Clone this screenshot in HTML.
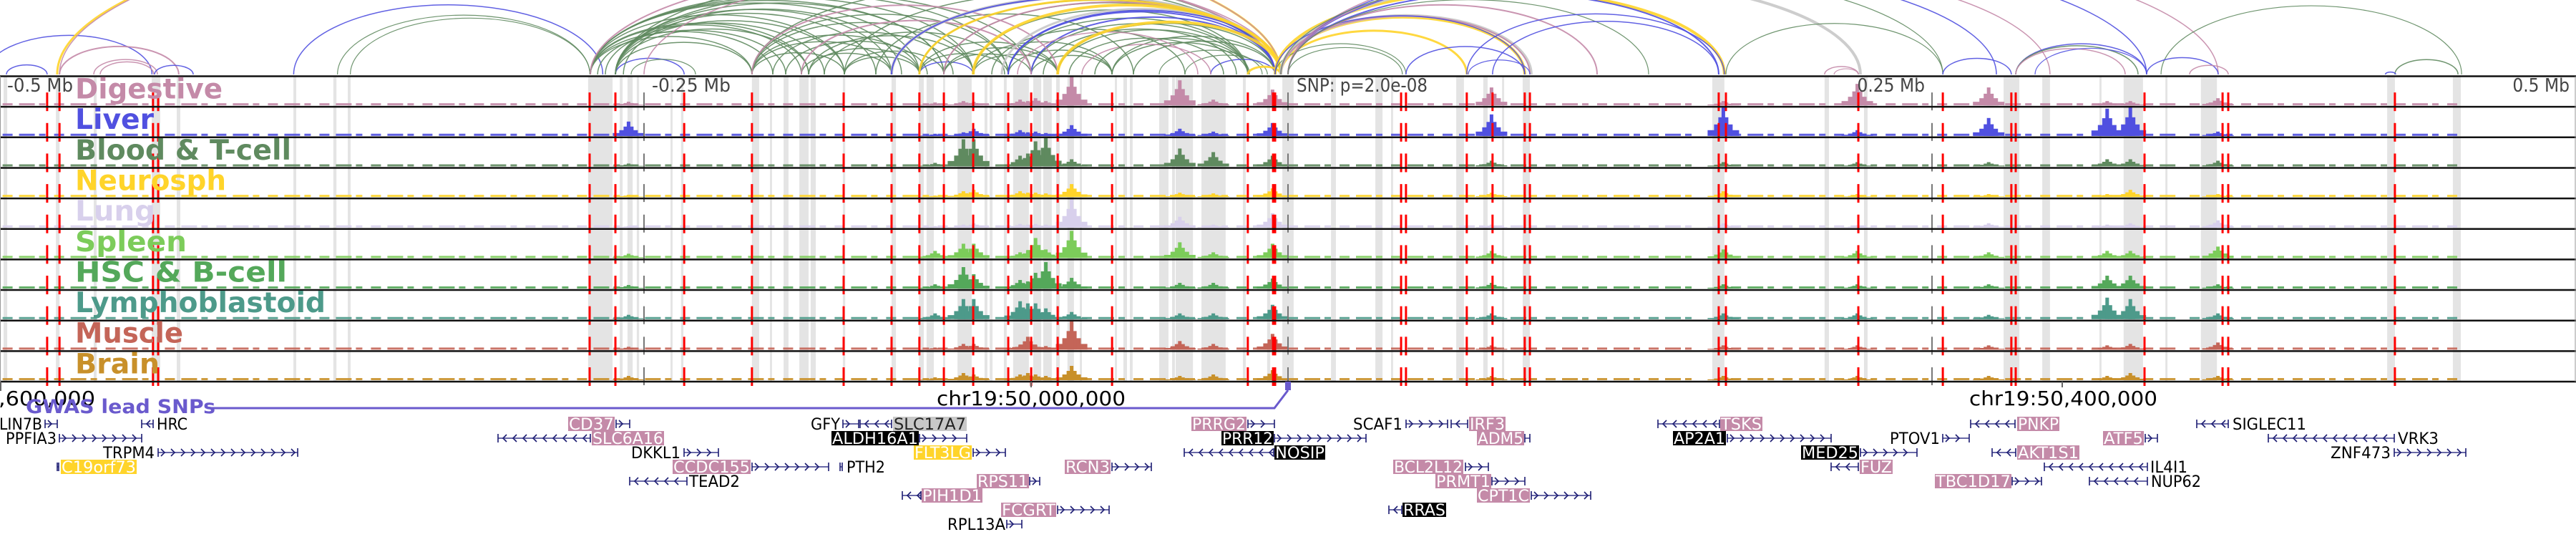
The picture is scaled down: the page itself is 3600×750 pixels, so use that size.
<!DOCTYPE html>
<html><head><meta charset="utf-8"><style>
html,body{margin:0;padding:0;background:#fff;}
svg{display:block;}
text{font-family:"DejaVu Sans Condensed","Liberation Sans Narrow","Liberation Sans",sans-serif;}
</style></head><body>
<svg id="chart" width="3600" height="750" viewBox="0 0 3600 750" xmlns="http://www.w3.org/2000/svg">
<g id="arcs"></g>
<g id="bands"></g>
<g id="signals"></g>
<g id="reds"></g>
<g id="frames"></g>
<g id="labels"></g>
<g id="axis">
<text x="10" y="128" font-size="26" fill="#444" textLength="92" lengthAdjust="spacingAndGlyphs">-0.5 Mb</text>
<text x="911" y="128" font-size="26" fill="#444" textLength="110" lengthAdjust="spacingAndGlyphs">-0.25 Mb</text>
<text x="1812" y="128" font-size="26" fill="#444" textLength="183" lengthAdjust="spacingAndGlyphs">SNP: p=2.0e-08</text>
<text x="2690" y="128" font-size="26" fill="#444" text-anchor="end">0.25 Mb</text>
<text x="3591" y="128" font-size="26" fill="#444" text-anchor="end">0.5 Mb</text>
<line x1="1" y1="533" x2="1" y2="546" stroke="#666" stroke-width="2"/>
<line x1="1441" y1="533" x2="1441" y2="541" stroke="#666" stroke-width="2"/>
<line x1="2882" y1="533" x2="2882" y2="541" stroke="#666" stroke-width="2"/>
<text x="-2" y="566" font-size="28" fill="#000" textLength="135" lengthAdjust="spacingAndGlyphs">,600,000</text>
<text x="1309" y="566" font-size="28" fill="#000" textLength="264" lengthAdjust="spacingAndGlyphs">chr19:50,000,000</text>
<text x="2752" y="566" font-size="28" fill="#000" textLength="263" lengthAdjust="spacingAndGlyphs">chr19:50,400,000</text>
</g>
<g id="gwas">
<polyline points="290,570 1781,570 1800,545" fill="none" stroke="#6a5acd" stroke-width="3"/>
<rect x="1796" y="533" width="8" height="12" fill="#6a5acd"/>
<text x="36" y="577" font-size="27" font-weight="bold" fill="#6a5acd" textLength="265" lengthAdjust="spacingAndGlyphs">GWAS lead SNPs</text>
</g>
<g id="genes"></g>
</svg>
<script>
// ---------- data ----------
const trackNames = ["Digestive","Liver","Blood & T-cell","Neurosph","Lung","Spleen","HSC & B-cell","Lymphoblastoid","Muscle","Brain"];
const trackColors = ["#c48aa8","#5050e0","#5f8a5f","#ffd42a","#d8d0ec","#7ccc5a","#54a85a","#4d9a8a","#c46558","#c8902a"];
const trackLabelWidths = [206,110,302,211,112,156,296,350,151,118];
// peak positions (kb relative to lead SNP)
const peakKb = [-256,-137,-126,-122,-104,-101,-98,-94,-84,-42,-29,-6,79,169,221,272,318,327,361];
const sigDigestive = [5,4,6,5,8,6,10,6,40,35,8,22,25,6,30,25,6,6,10];
const sigLiver     = [20,3,5,10,8,5,6,4,15,10,6,18,30,40,8,25,38,40,6];
const sigBlood     = [4,5,38,38,15,18,35,40,10,25,20,15,8,6,6,6,10,10,8];
const sigNeuro     = [3,2,8,10,8,6,6,5,18,6,5,12,6,8,4,4,4,10,4];
const sigLung      = [2,2,4,6,5,4,5,4,40,15,4,20,4,6,3,6,4,6,10];
const sigSpleen    = [6,10,20,20,8,10,28,12,38,22,8,20,10,12,10,8,10,10,16];
const sigHSC       = [5,6,30,20,12,10,22,37,15,8,8,14,8,6,6,6,18,18,6];
const sigLympho    = [6,8,28,28,25,22,22,15,10,8,8,20,8,8,8,6,30,28,8];
const sigMuscle    = [4,3,8,8,6,18,6,5,40,12,8,22,6,6,6,6,6,8,10];
const sigBrain     = [6,4,10,8,8,10,8,6,20,6,8,14,6,6,6,6,6,10,6];
const trackSignals = [sigDigestive,sigLiver,sigBlood,sigNeuro,sigLung,sigSpleen,sigHSC,sigLympho,sigMuscle,sigBrain];
const baselineKb = [[-499,-440],[-436,-125],[-120,160],[172,345],[350,455]];
const snpKb = [-481.7,-476.9,-440.6,-438.6,-271.1,-261.1,-234.4,-208.1,-172.5,-153.9,-143.1,-133.6,-122.2,-108.6,-99.7,-89.4,-68.3,-15.6,-5.8,-5.0,43.9,45.8,69.4,79.4,91.9,93.9,167.2,170,221.4,254.2,280.8,282.5,332.5,362.8,365,429.7];
const tickKb = [-250,0,250];
const bandKb = [[-498.6,-497.2],[-478.3,-476.9],[-463.6,-462.5],[-441.1,-437.8],[-431.4,-430],[-386.1,-385],[-370.6,-369.4],[-365,-363.9],[-271.7,-262.2],[-259.4,-258.3],[-256.4,-254.4],[-252.8,-251.9],[-239.7,-238.9],[-235.6,-234.7],[-208.1,-205.3],[-201.1,-200.3],[-195.8,-193.9],[-189.7,-186.1],[-185.3,-183.3],[-172.8,-171.9],[-153.9,-152.2],[-143.3,-141.4],[-140.3,-137.5],[-133.9,-133.1],[-128.3,-122.8],[-117.8,-116.7],[-115.8,-114.7],[-110.3,-109.2],[-106.7,-100.6],[-98.9,-95.8],[-95,-91.7],[-90,-88.6],[-85.6,-83.1],[-80.8,-80],[-67.2,-66.4],[-63.9,-62.5],[-61.4,-60.3],[-50,-46.4],[-45,-43.9],[-43.6,-36.9],[-33.6,-24.2],[-17.5,-16.4],[-8.1,-6.9],[-2.2,2.2],[16.7,18.6],[33.9,36.7],[40,40.8],[65.3,68.3],[75.8,77.5],[83.1,83.9],[91.1,93.9],[164.7,169.4],[208.3,210],[223.6,225],[277.8,283.9],[292.8,295.8],[315,315.8],[324.4,331.9],[340.6,341.4],[354.4,360.6],[426.7,429.7],[452.2,455.3]];
// arcs: [kb1, kb2, colorIndex, width]  colors: 0 green,1 blue,2 pink,3 gray,4 yellow
const arcColors = ["#5f8a5f","#5050e0","#c48aa8","#c8c8c8","#ffd42a"];
const arcList = [
[-505.6,-441,1,1.5],[-497.5,-481.7,1,1.5],[-476.9,-430.6,2,2],[-463.6,-438.9,2,1.5],[-461.1,-440.3,2,1.5],[-440,-425,1,1.5],[-477.8,-2.8,4,3],[-476.9,-2.8,2,1.5],
[-386,-266,1,1.5],[-369,-271,0,1.2],[-364,-271,0,1.2],
[-270.8,-208.1,0,1.5],[-270.8,-188.9,0,1.5],[-270.8,-186.1,0,1.5],[-270.8,-172.2,0,1.5],[-270.8,-143.1,0,1.5],[-261.1,-208.1,0,1.5],[-261.1,-186.1,0,1.5],[-261.1,-172.2,0,1.5],[-261.1,-153.9,0,1.5],[-270.8,-133.6,0,1.5],[-261.1,-133.6,0,1.5],[-261.1,-234.4,1,1.5],[-255,-230,0,1.2],
[-270.8,-200,0,1.5],[-268,-195,0,1.5],[-265,-180,0,1.5],[-261,-160,0,1.5],[-258,-150,0,1.5],[-270.8,-122.2,0,1.5],[-270.8,-108.6,0,1.5],[-261.1,-99.7,0,1.5],[-208.1,-122.2,0,1.5],[-208.1,-108.6,0,1.5],[-200,-130,0,1.5],[-195,-140,0,1.5],[-186,-122,0,1.5],[-180,-110,0,1.5],
[-208.1,-172.2,0,1.5],[-208.1,-153.9,0,1.5],[-208.1,-143.1,0,1.5],[-188.9,-153.9,0,1.5],[-186.1,-143.1,0,1.5],[-172.2,-133.6,0,1.5],[-172.2,-143.1,0,1.5],[-143.1,-122.2,1,1.5],
[-143.1,-108.6,0,1.5],[-133.6,-99.7,0,1.5],[-133.6,-89.4,0,1.5],[-143.1,-89.4,0,1.5],[-122.2,-89.4,0,1.5],[-122.2,-68.3,0,1.5],[-108.6,-68.3,0,1.5],[-99.7,-68.3,0,1.5],
[-108.6,-15.6,0,1.5],[-122.2,-15.6,0,1.5],[-99.7,-15.6,0,1.5],[-89.4,-15.6,0,1.5],[-68.3,-15.6,0,1.5],[-68.3,-5,0,1.5],[-89.4,-5,0,1.5],[-153.9,-5,0,1.5],[-172.2,-5,0,1.5],[-208.1,-5,0,1.5],[-261.1,-5,0,1.5],[-270.8,-5,2,2],[-133.6,-5,0,1.5],[-143.1,-5,0,1.5],[-108.6,-5,1,2],[-99.7,-5,1,2],[-50,-10,0,1.2],[-40,-8,0,1.2],[-30,-5,1,1.5],
[-95,-20,0,1.5],[-85,-25,0,1.5],[-80,-30,2,1.5],[-75,-15,0,1.5],[-60,-5,0,1.5],[-115,-40,0,1.5],[-105,-35,2,1.5],[-160,-60,0,1.5],
[-208.1,-89.4,2,2],[-188.9,-99.7,2,2],[-250,-2.8,2,1.5],[-133.6,-2.8,2,2],[-153.9,-2.8,3,4],[-111.1,-2.8,3,3],[-108.6,-2.8,1,2],[-153.9,-5,1,2],
[-122.2,-2.8,4,4],[-89.4,-2.8,4,4],[-15.6,-2.8,4,3],[-143.1,-2.8,4,3],
[-5,169.4,4,4],[-2.8,91.9,4,4],[-2.8,69.4,4,3],[0,44.4,0,1.2],[-5,45.8,0,1.2],[-2.8,222.2,3,4],[-2.8,94.4,3,4],[-2.8,93.9,2,2],[0,167.2,1,2],[0,275,1,1.5],[0,333.3,1,1.5],[-5,91.9,1,1.5],[0,295.8,2,1.5],[0,361.1,2,1.5],[0,120,2,2],[0,140,0,1.2],[-2.8,254.2,0,1.2],
[69.4,169.4,1,1.5],[79.4,167.2,1,1.5],[45.8,91.9,1,1.5],[70,93.9,1,1.2],
[170,254.2,0,1.2],[208.3,221.4,2,1.5],[212,221.4,2,1.2],[254.2,280.8,1,1.5],[282.5,333.3,1,1.5],[282.5,330,0,1.5],[282.5,325,2,1.5],[290,333.3,1,1.2],[338.9,455.6,0,1.2],[333.3,361.1,1,1.5],[350,365,2,1.5],[429.7,454.2,0,1.5],[426,430,1,1.5]
];
// genes: [name, labelX1, labelX2, row, style, lineX1, lineX2, strand]
const genes = [
["LIN7B",-2,60,0,"t",63,80,1],["HRC",218,263,0,"t",198,214,-1],["PPFIA3",7,80,1,"t",83,198,1],["TRPM4",143,217,2,"t",221,416,1],["C19orf73",85,191,3,"y",80,82,1],
["CD37",794,859,0,"p",861,880,1],["SLC6A16",827,928,1,"p",696,825,-1],["DKKL1",881,952,2,"t",956,1004,1],["CCDC155",940,1049,3,"p",1051,1158,1],["PTH2",1182,1238,3,"t",1174,1177,1],["TEAD2",962,1035,4,"t",880,960,-1],
["GFY",1132,1175,0,"t",1178,1200,1],["SLC17A7",1248,1351,0,"g",1202,1246,-1],["ALDH16A1",1162,1284,1,"k",1285,1351,1],["FLT3LG",1277,1358,2,"y",1360,1405,1],["RCN3",1488,1552,3,"p",1554,1609,1],["RPS11",1365,1438,4,"p",1439,1453,1],["PIH1D1",1288,1373,5,"p",1261,1287,-1],["FCGRT",1399,1476,6,"p",1478,1550,1],["RPL13A",1323,1406,7,"t",1407,1428,1],
["PRRG2",1665,1742,0,"p",1744,1781,1],["PRR12",1707,1780,1,"k",1781,1909,1],["NOSIP",1781,1852,2,"k",1655,1780,-1],["SCAF1",1890,1961,0,"t",1965,2023,1],["IRF3",2053,2104,0,"p",2028,2051,-1],["ADM5",2064,2130,1,"p",2131,2138,1],["BCL2L12",1947,2045,3,"p",2048,2080,1],["PRMT1",2006,2084,4,"p",2085,2131,1],["CPT1C",2064,2138,5,"p",2140,2223,1],["RRAS",1960,2021,6,"k",1941,1959,-1],
["TSKS",2404,2463,0,"p",2317,2403,-1],["AP2A1",2338,2412,1,"k",2414,2559,1],["MED25",2517,2598,2,"k",2600,2679,1],["FUZ",2599,2645,3,"p",2559,2597,-1],["PTOV1",2640,2712,1,"t",2715,2752,1],["PNKP",2819,2878,0,"p",2754,2816,-1],["AKT1S1",2819,2906,2,"p",2784,2817,-1],["TBC1D17",2704,2811,4,"p",2812,2853,1],["ATF5",2939,2996,1,"p",2998,3015,1],["IL4I1",3004,3058,3,"t",2857,3001,-1],["NUP62",3005,3077,4,"t",2920,3001,-1],
["SIGLEC11",3119,3224,0,"t",3070,3114,-1],["VRK3",3350,3409,1,"t",3170,3346,-1],["ZNF473",3256,3342,2,"t",3346,3446,1]
];
// ---------- geometry ----------
const NS="http://www.w3.org/2000/svg";
const X = kb => 1800 + kb*3.6;
const T0 = 106.5, TH = 42.65;
const trackTop = i => T0 + i*TH;
const trackBottom = i => T0 + (i+1)*TH;
function mk(tag, attrs, parent){const e=document.createElementNS(NS,tag);for(const k in attrs)e.setAttribute(k,attrs[k]);parent.appendChild(e);return e;}
const gArcs=document.getElementById('arcs'),gBands=document.getElementById('bands'),gSig=document.getElementById('signals'),gReds=document.getElementById('reds'),gFr=document.getElementById('frames'),gLab=document.getElementById('labels'),gGenes=document.getElementById('genes');

// arcs
arcList.forEach((a,i)=>{
  const x1=X(Math.min(a[0],a[1])), x2=X(Math.max(a[0],a[1]));
  const R=(x2-x1)/2; const ry = R<=200 ? 0.47*R : 94+0.2*(R-200);
  const p=mk('path',{d:`M${x1},104 A${R},${ry} 0 0 1 ${x2},104`,fill:'none',stroke:arcColors[a[2]],'stroke-width':a[3],'stroke-opacity':0.9},gArcs);
  
  
});

// bands
bandKb.forEach(b=>{
  const r=mk('rect',{x:X(b[0]),y:T0,width:Math.max(2.5,X(b[1])-X(b[0])),height:TH*10,fill:'#e4e4e4'},gBands);
  
  
});

// signals
trackSignals.forEach((sig,t)=>{
  const g=mk('g',{fill:trackColors[t]},gSig);
  
  
  const base=trackBottom(t)-2;
  baselineKb.forEach(s=>{
    const l=mk('line',{x1:X(s[0]),x2:X(s[1]),y1:base-1.5,y2:base-1.5,stroke:trackColors[t],'stroke-width':3,'stroke-dasharray':'14 9 22 6 9 12','stroke-opacity':0.9},g);
    
    
  });
  peakKb.forEach((kb,j)=>{
    const h=Math.min(sig[j],40), cx=X(kb);
    const levels=[[44,0.2],[26,0.4],[14,0.65],[5,1]];
    levels.forEach(([w,f])=>{
      const r=mk('rect',{x:cx-w/2,y:base-h*f,width:w,height:h*f},g);
      
      
    });
  });
});

// tick lines (dashed gray)
tickKb.forEach(kb=>{
  for(let t=0;t<10;t++){
    const r=mk('rect',{x:X(kb)-1,y:trackBottom(t)-20,width:2,height:25,fill:'#777'},gReds);
    
    
  }
});
// red snp dashes
snpKb.forEach(kb=>{
  for(let t=0;t<10;t++){
    const r=mk('rect',{x:X(kb)-1.5,y:trackBottom(t)-20,width:3,height:26,fill:'#ff0000'},gReds);
    
    
  }
});

// frames
for(let t=0;t<=10;t++){
  const l=mk('line',{x1:0,x2:3600,y1:trackTop(t),y2:trackTop(t),stroke:'#111','stroke-width':2.5},gFr);
  
  
}
[0.5,3599].forEach(x=>{
  const l=mk('line',{x1:x,x2:x,y1:T0,y2:trackTop(10),stroke:'#999','stroke-width':1},gFr);
  
  
});

// track labels
trackNames.forEach((n,t)=>{
  const tx=mk('text',{x:105,y:trackTop(t)+31,'font-size':39,'font-weight':'bold',fill:trackColors[t],textLength:trackLabelWidths[t],lengthAdjust:'spacingAndGlyphs'},gLab);
  tx.textContent=n;
  
  
});

// genes
const styleFill={p:'#c48aa8',k:'#000',y:'#ffd42a',g:'#c8c8c8'};
const textFill={t:'#000',g:'#222',p:'#fff',k:'#fff',y:'#fff'};
genes.forEach(gd=>{
  const [name,lx1,lx2,row,st,l1,l2,strand]=gd;
  const cy=592+row*20;
  const g=mk('g',{},gGenes);
  
  
  const ln=mk('line',{x1:l1,x2:l2,y1:cy,y2:cy,stroke:'#6a6aa8','stroke-width':2},g);
  
  
  let d='';
  for(let x=l1+8;x<l2-3;x+=14){
    d+= strand>0 ? `M${x-4},${cy-5}L${x+1},${cy}L${x-4},${cy+5}` : `M${x+4},${cy-5}L${x-1},${cy}L${x+4},${cy+5}`;
  }
  d+=`M${l1},${cy-6}V${cy+6}M${l2},${cy-6}V${cy+6}`;
  const ch=mk('path',{d:d,fill:'none',stroke:'#1c1c72','stroke-width':1.6},g);
  
  
  if(st!=='t'){
    const bx=mk('rect',{x:lx1,y:cy-10,width:lx2-lx1,height:20,fill:styleFill[st]},g);
    
    
  }
  const tx=mk('text',{x:lx1+1,y:cy+8,'font-size':22,fill:textFill[st],textLength:lx2-lx1-2,lengthAdjust:'spacingAndGlyphs'},g);
  tx.textContent=name;
  
  
});
</script>
</body></html>
